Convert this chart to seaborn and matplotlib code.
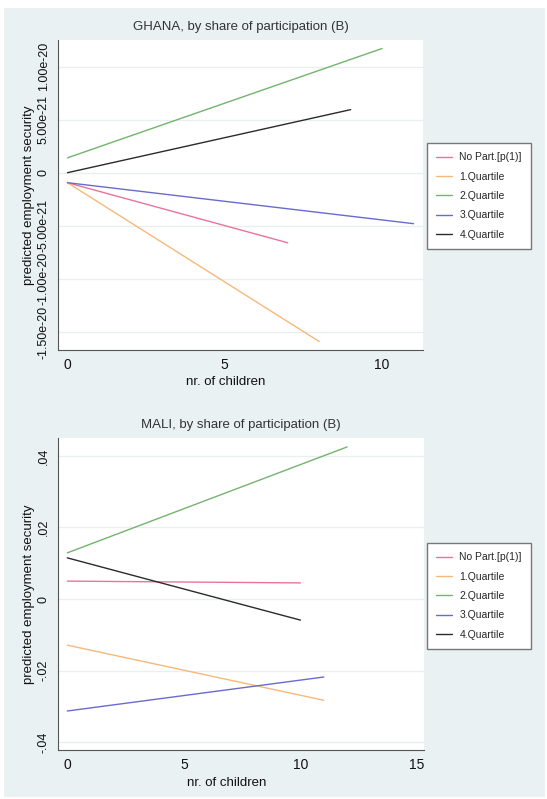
import matplotlib.pyplot as plt
import numpy as np
import pandas as pd
import seaborn as sns
from matplotlib.patches import Rectangle

sns.set_theme(style="white")
plt.rcParams["font.family"] = ["Liberation Sans", "DejaVu Sans"]

# --- data: each group is a straight line from 0 to its last x ---
groups = ["No Part.[p(1)]", "1.Quartile", "2.Quartile", "3.Quartile", "4.Quartile"]
colors = ["#e8749a", "#f5b97a", "#74b36e", "#6a6ad0", "#2b2b2b"]

ghana_x_end = [7, 8, 10, 11, 9]
ghana_y_start = [-0.94e-21, -0.94e-21, 1.4e-21, -0.94e-21, 0.0]
ghana_y_end = [-6.6e-21, -1.59e-20, 1.17e-20, -4.8e-21, 5.94e-21]
ghana_yticks = [-1.5e-20, -1.0e-20, -5.0e-21, 0.0, 5.0e-21, 1.0e-20]
ghana_yticklabels = ["-1.50e-20", "-1.00e-20", "-5.00e-21", "0", "5.00e-21", "1.00e-20"]

mali_x_end = [10, 11, 12, 11, 10]
mali_y_start = [0.005, -0.0129, 0.0129, -0.0313, 0.0115]
mali_y_end = [0.0045, -0.0283, 0.0425, -0.0218, -0.0059]
mali_yticks = [-0.04, -0.02, 0.0, 0.02, 0.04]
mali_yticklabels = ["-.04", "-.02", "0", ".02", ".04"]


def make_df(x_end, y_start, y_end):
    rows = []
    for g, xe, y0, y1 in zip(groups, x_end, y_start, y_end):
        rows.append({"group": g, "children": 0, "pred": y0})
        rows.append({"group": g, "children": xe, "pred": y1})
    return pd.DataFrame(rows)


df_ghana = make_df(ghana_x_end, ghana_y_start, ghana_y_end)
df_mali = make_df(mali_x_end, mali_y_start, mali_y_end)

W, H = 547, 799
fig = plt.figure(figsize=(W / 100, H / 100), dpi=100, facecolor="white")
bg = Rectangle((4 / W, 2 / H), 541 / W, 789 / H, transform=fig.transFigure,
               facecolor="#eaf1f3", edgecolor="none", zorder=-10)
fig.add_artist(bg)

ax1 = fig.add_axes([58 / W, 1 - 350 / H, 365 / W, 310 / H])
ax2 = fig.add_axes([58 / W, 1 - 750 / H, 366 / W, 312 / H])

panels = [
    (ax1, df_ghana, "GHANA, by share of participation (B)", ghana_yticks,
     ghana_yticklabels, (-0.3, 11.3), [0, 5, 10], (-1.67e-20, 1.25e-20), 143),
    (ax2, df_mali, "MALI, by share of participation (B)", mali_yticks,
     mali_yticklabels, (-0.4, 15.3), [0, 5, 10, 15], (-0.0422, 0.045), 543),
]

for ax, df, title, yt, ytl, xlim, xt, ylim, leg_top in panels:
    ax.set_facecolor("white")
    for yv in yt:
        ax.axhline(yv, color="#e8eff1", lw=0.9, zorder=0)
    sns.lineplot(data=df, x="children", y="pred", hue="group", hue_order=groups,
                 palette=colors, lw=1.0, ax=ax, legend=True)
    ax.set_xlim(*xlim)
    ax.set_ylim(*ylim)
    ax.set_xticks(xt)
    ax.set_yticks(yt)
    ax.set_yticklabels(ytl, rotation=90, va="center")
    ax.tick_params(axis="both", direction="out", length=4, width=0.7,
                   color="#555555", labelsize=9, labelcolor="#111111", pad=2)
    ax.tick_params(axis="x", labelsize=10)
    for s in ["top", "right"]:
        ax.spines[s].set_visible(False)
    for s in ["left", "bottom"]:
        ax.spines[s].set_color("#555555")
        ax.spines[s].set_linewidth(0.8)
    ax.set_title(title, fontsize=9.5, color="#333333", pad=7)
    ax.set_xlabel("nr. of children", fontsize=9.5, color="#111111", labelpad=1)
    ax.set_ylabel("predicted employment security", fontsize=9.5, color="#111111", labelpad=2)
    ax.xaxis.set_label_coords(0.46, -0.085)

    handles, labels = ax.get_legend_handles_labels()
    ax.legend(handles, labels, loc="upper left",
              bbox_to_anchor=(427 / W, 1 - leg_top / H), bbox_transform=fig.transFigure,
              fontsize=7.5, frameon=True, fancybox=False, edgecolor="#777777",
              framealpha=1, handlelength=1.5, handletextpad=0.7,
              labelspacing=0.9, borderpad=0.9, borderaxespad=0)

fig.savefig("out.png", dpi=100, facecolor=fig.get_facecolor())
